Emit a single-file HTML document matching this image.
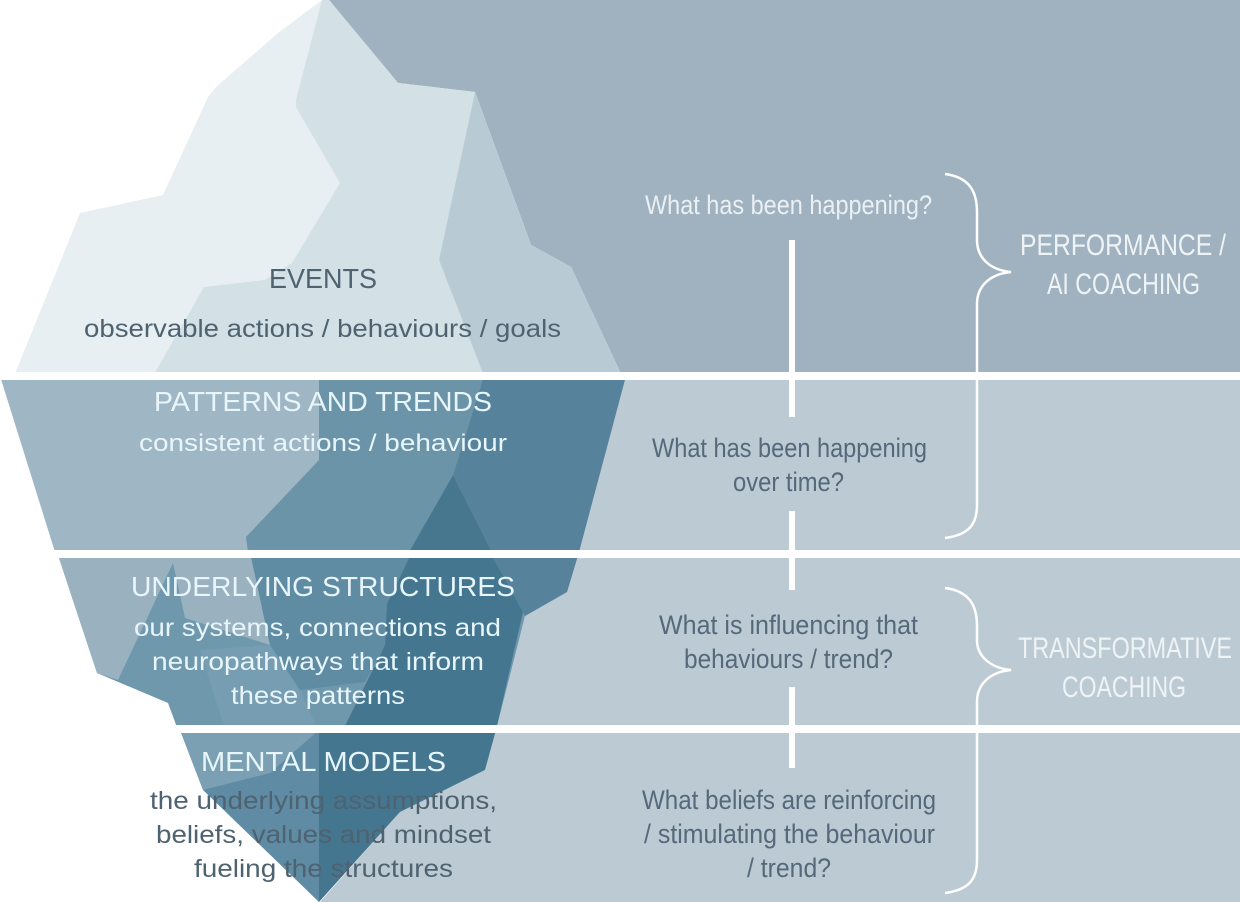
<!DOCTYPE html>
<html><head><meta charset="utf-8"><style>
html,body{margin:0;padding:0;background:#fff}
svg{display:block}
text{font-family:"Liberation Sans",sans-serif;text-anchor:start}
.d{fill:#4e6270}.w{fill:#e8f6fb}.q{fill:#55697a;font-size:27px}.qw{fill:#eaf0f3;font-size:27px}.h{fill:#eef3f6;font-size:30px}
</style></head><body>
<svg width="1240" height="902" viewBox="0 0 1240 902" xmlns="http://www.w3.org/2000/svg">
<rect width="1240" height="902" fill="#fff"/>
<!-- sky / water panels -->
<polygon points="329,0 1240,0 1240,376 622,376 571,267 531,245 475,92 398,83" fill="#a0b2c0"/>
<polygon points="626,376 1240,376 1240,902 320,902 400,812 485,770 496,725 525,616 567,592 579,550" fill="#bccad4"/>
<!-- tip -->
<polygon points="322,0 329,0 398,83 475,92 531,245 571,267 622,376 14,376 80,213 163,195 208,97 216,87 278,33" fill="#e8eff2"/>
<polygon points="322,0 329,0 398,83 475,92 439,260 484,376 153,376 204,287 265,280 292,263 340,183 296,107 296,100" fill="#d3e0e5"/>
<polygon points="475,92 531,245 571,267 622,376 484,376 439,260" fill="#b8cbd5"/>
<!-- band 1 -->
<polygon points="0,376 626,376 579,552 55,552" fill="#9fb6c4"/>
<polygon points="319,376 484,376 453,475 409,552 248,552 246,537 319,460" fill="#6b94a9"/>
<polygon points="484,376 626,376 579,552 492,552 453,475" fill="#56829b"/>
<polygon points="453,475 492,552 409,552" fill="#46778f"/>
<!-- band 2 -->
<polygon points="57,552 579,552 567,592 525,616 496,730 178,730 168,703 97,673" fill="#6f98ad"/>
<polygon points="57,552 250,552 270,645 185,618 173,563 118,680 97,673" fill="#9ab2c0"/>
<polygon points="270,645 300,690 318,730 225,730 200,650" fill="#769db1"/>
<polygon points="250,552 412,552 387,604 385,645 365,682 300,690 270,645" fill="#5f8ba3"/>
<polygon points="412,552 490,552 523,612 496,730 343,730 385,645 387,604" fill="#457690"/>
<polygon points="490,552 579,552 567,592 525,616 523,612" fill="#56829b"/>
<!-- band 3 -->
<polygon points="180,730 496,730 485,770 400,812 319,902" fill="#457690"/>
<polygon points="180,730 319,730 319,902 203,790" fill="#5f8ca4"/>
<polygon points="180,730 319,730 270,773 203,790" fill="#7ba0b3"/>
<!-- horizontal rules -->
<rect x="0" y="372" width="1240" height="8" fill="#fff"/>
<rect x="0" y="550" width="1240" height="8" fill="#fff"/>
<rect x="0" y="725" width="1240" height="8" fill="#fff"/>
<!-- vertical segments -->
<rect x="789" y="240" width="6" height="177" fill="#fff"/>
<rect x="789" y="511" width="6" height="79" fill="#fff"/>
<rect x="789" y="687" width="6" height="81" fill="#fff"/>
<!-- braces -->
<path d="M945,174 C968,177 977,190 977,212 L977,240 C977,258 990,270 1011,272 C990,274 977,286 977,304 L977,505 C977,525 968,535 945,538" fill="none" stroke="#fff" stroke-width="2.5"/>
<path d="M945,588 C968,591 977,604 977,626 L977,640 C977,656 990,668 1011,670 C990,672 977,684 977,702 L977,860 C977,880 968,890 945,893" fill="none" stroke="#fff" stroke-width="2.5"/>
<!-- left labels -->
<text class="d" x="269" y="288" font-size="28" textLength="108" lengthAdjust="spacingAndGlyphs">EVENTS</text>
<text class="d" x="84" y="337" font-size="25" textLength="477" lengthAdjust="spacingAndGlyphs">observable actions / behaviours / goals</text>
<text class="w" x="154" y="411" font-size="28" textLength="338" lengthAdjust="spacingAndGlyphs">PATTERNS AND TRENDS</text>
<text class="w" x="139" y="451" font-size="24" textLength="368" lengthAdjust="spacingAndGlyphs">consistent actions / behaviour</text>
<text class="w" x="131" y="596" font-size="28" textLength="384" lengthAdjust="spacingAndGlyphs">UNDERLYING STRUCTURES</text>
<text class="w" x="134" y="636" font-size="25" textLength="367" lengthAdjust="spacingAndGlyphs">our systems, connections and</text>
<text class="w" x="152" y="670" font-size="25" textLength="332" lengthAdjust="spacingAndGlyphs">neuropathways that inform</text>
<text class="w" x="231" y="704" font-size="25" textLength="174" lengthAdjust="spacingAndGlyphs">these patterns</text>
<text class="w" x="201" y="771" font-size="28" textLength="245" lengthAdjust="spacingAndGlyphs">MENTAL MODELS</text>
<text class="d" x="150" y="809" font-size="25" textLength="347" lengthAdjust="spacingAndGlyphs">the underlying assumptions,</text>
<text class="d" x="156" y="843" font-size="25" textLength="335" lengthAdjust="spacingAndGlyphs">beliefs, values and mindset</text>
<text class="d" x="194" y="877" font-size="25" textLength="259" lengthAdjust="spacingAndGlyphs">fueling the structures</text>
<!-- questions -->
<text class="qw" x="645" y="214" textLength="287" lengthAdjust="spacingAndGlyphs">What has been happening?</text>
<text class="q" x="652" y="457" textLength="275" lengthAdjust="spacingAndGlyphs">What has been happening</text>
<text class="q" x="733" y="491" textLength="111" lengthAdjust="spacingAndGlyphs">over time?</text>
<text class="q" x="659" y="634" textLength="259" lengthAdjust="spacingAndGlyphs">What is influencing that</text>
<text class="q" x="684" y="668" textLength="209" lengthAdjust="spacingAndGlyphs">behaviours / trend?</text>
<text class="q" x="642" y="809" textLength="294" lengthAdjust="spacingAndGlyphs">What beliefs are reinforcing</text>
<text class="q" x="644" y="843" textLength="291" lengthAdjust="spacingAndGlyphs">/ stimulating the behaviour</text>
<text class="q" x="747" y="877" textLength="84" lengthAdjust="spacingAndGlyphs">/ trend?</text>
<!-- right labels -->
<text class="h" x="1020" y="255" textLength="206" lengthAdjust="spacingAndGlyphs">PERFORMANCE /</text>
<text class="h" x="1047" y="294" textLength="153" lengthAdjust="spacingAndGlyphs">AI COACHING</text>
<text class="h" x="1018" y="658" textLength="214" lengthAdjust="spacingAndGlyphs">TRANSFORMATIVE</text>
<text class="h" x="1062" y="697" textLength="124" lengthAdjust="spacingAndGlyphs">COACHING</text>
</svg>
</body></html>
